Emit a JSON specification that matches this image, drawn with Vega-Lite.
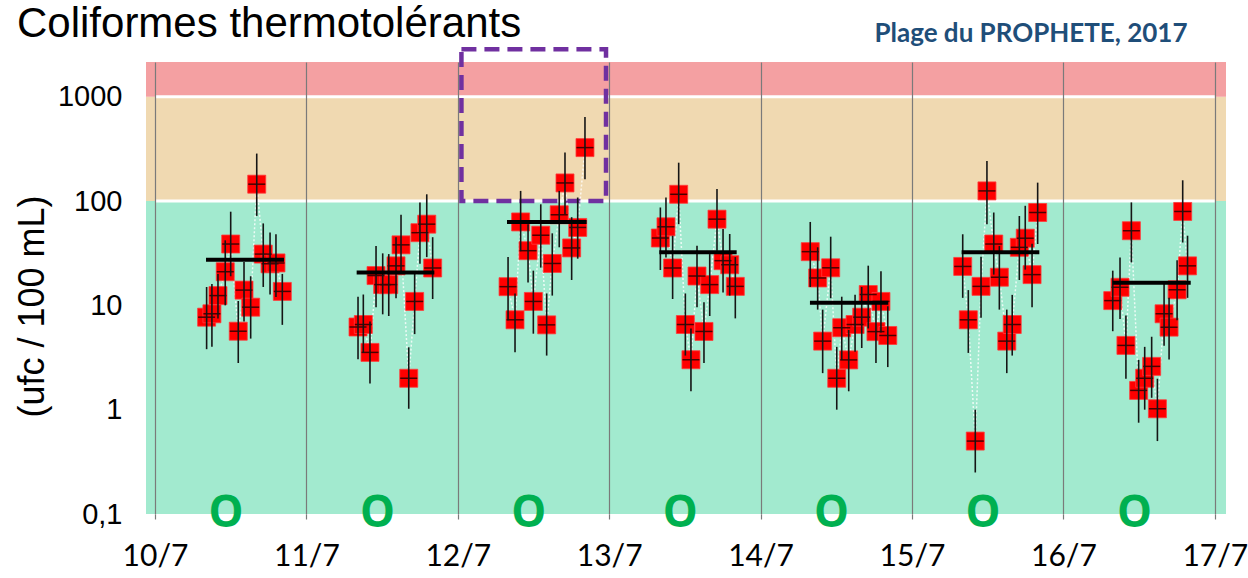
{
  "$schema": "https://vega.github.io/schema/vega-lite/v6.json",
  "width": 1080,
  "height": 452,
  "autosize": {"type": "none"},
  "padding": {"left": 146, "top": 62, "right": 22, "bottom": 64},
  "background": "white",
  "config": {"view": {"stroke": null}},
  "title": {
    "text": "Coliformes thermotolérants",
    "anchor": "start",
    "frame": "group",
    "dx": -129,
    "dy": 37,
    "offset": 12,
    "font": "Liberation Sans",
    "fontSize": 42,
    "fontWeight": "normal",
    "color": "#000000"
  },
  "datasets": {
    "zones": [
      {"lo": 0.1, "hi": 100, "zone": "bon"},
      {"lo": 100, "hi": 1000, "zone": "moyen"},
      {"lo": 1000, "hi": 2150, "zone": "mauvais"}
    ],
    "limits": [{"y": 100}, {"y": 1000}],
    "pts": [
      {"day": 0, "t": 0.341, "v": 7.7, "lo": 3.8, "hi": 15},
      {"day": 0, "t": 0.376, "v": 8.3, "lo": 4, "hi": 16},
      {"day": 0, "t": 0.416, "v": 12.4, "lo": 7.5, "hi": 20},
      {"day": 0, "t": 0.464, "v": 21, "lo": 10, "hi": 42},
      {"day": 0, "t": 0.5, "v": 38.7, "lo": 19, "hi": 79},
      {"day": 0, "t": 0.55, "v": 5.65, "lo": 2.8, "hi": 11},
      {"day": 0, "t": 0.588, "v": 14, "lo": 7, "hi": 26},
      {"day": 0, "t": 0.632, "v": 9.6, "lo": 4.8, "hi": 19},
      {"day": 0, "t": 0.672, "v": 145, "lo": 72, "hi": 285},
      {"day": 0, "t": 0.715, "v": 31, "lo": 15, "hi": 61},
      {"day": 0, "t": 0.76, "v": 25, "lo": 12.7, "hi": 50},
      {"day": 0, "t": 0.799, "v": 25.5, "lo": 12, "hi": 48},
      {"day": 0, "t": 0.841, "v": 13.6, "lo": 6.5, "hi": 20},

      {"day": 1, "t": 1.341, "v": 6.2, "lo": 3.05, "hi": 12.1},
      {"day": 1, "t": 1.376, "v": 6.55, "lo": 3.5, "hi": 12.7},
      {"day": 1, "t": 1.42, "v": 3.54, "lo": 1.78, "hi": 7},
      {"day": 1, "t": 1.46, "v": 19.3, "lo": 9.6, "hi": 37},
      {"day": 1, "t": 1.504, "v": 15.8, "lo": 8.2, "hi": 31.5},
      {"day": 1, "t": 1.544, "v": 15.8, "lo": 7.9, "hi": 31},
      {"day": 1, "t": 1.592, "v": 23.9, "lo": 11.7, "hi": 45},
      {"day": 1, "t": 1.625, "v": 38, "lo": 20, "hi": 74},
      {"day": 1, "t": 1.676, "v": 2.0, "lo": 1.02, "hi": 3.96},
      {"day": 1, "t": 1.715, "v": 10.9, "lo": 5.3, "hi": 20},
      {"day": 1, "t": 1.75, "v": 49.7, "lo": 25, "hi": 97},
      {"day": 1, "t": 1.795, "v": 60, "lo": 29, "hi": 116},
      {"day": 1, "t": 1.834, "v": 22.8, "lo": 11.5, "hi": 45},

      {"day": 2, "t": 2.332, "v": 15.1, "lo": 7.2, "hi": 29},
      {"day": 2, "t": 2.378, "v": 7.27, "lo": 3.56, "hi": 13},
      {"day": 2, "t": 2.415, "v": 63, "lo": 33, "hi": 125},
      {"day": 2, "t": 2.464, "v": 33.4, "lo": 16.6, "hi": 60},
      {"day": 2, "t": 2.499, "v": 10.9, "lo": 5.35, "hi": 21.5},
      {"day": 2, "t": 2.548, "v": 47, "lo": 23, "hi": 93},
      {"day": 2, "t": 2.587, "v": 6.5, "lo": 3.3, "hi": 13},
      {"day": 2, "t": 2.624, "v": 25.2, "lo": 12.4, "hi": 49},
      {"day": 2, "t": 2.67, "v": 73.8, "lo": 36, "hi": 125},
      {"day": 2, "t": 2.708, "v": 149, "lo": 75, "hi": 291},
      {"day": 2, "t": 2.752, "v": 35.5, "lo": 17.5, "hi": 70},
      {"day": 2, "t": 2.792, "v": 55.8, "lo": 28, "hi": 108},
      {"day": 2, "t": 2.84, "v": 325, "lo": 162, "hi": 638},

      {"day": 3, "t": 3.338, "v": 44.2, "lo": 21.8, "hi": 86.7},
      {"day": 3, "t": 3.375, "v": 56.6, "lo": 28.8, "hi": 108},
      {"day": 3, "t": 3.419, "v": 22.8, "lo": 11.5, "hi": 46.5},
      {"day": 3, "t": 3.459, "v": 116, "lo": 60, "hi": 233},
      {"day": 3, "t": 3.503, "v": 6.55, "lo": 3.3, "hi": 13},
      {"day": 3, "t": 3.54, "v": 3.01, "lo": 1.5, "hi": 6},
      {"day": 3, "t": 3.58, "v": 19.1, "lo": 9.6, "hi": 37.3},
      {"day": 3, "t": 3.626, "v": 5.62, "lo": 2.8, "hi": 10.7},
      {"day": 3, "t": 3.664, "v": 15.8, "lo": 7.9, "hi": 31},
      {"day": 3, "t": 3.712, "v": 67, "lo": 33.4, "hi": 130},
      {"day": 3, "t": 3.752, "v": 26.8, "lo": 13.3, "hi": 53.8},
      {"day": 3, "t": 3.796, "v": 24.5, "lo": 12.4, "hi": 48.3},
      {"day": 3, "t": 3.833, "v": 15.2, "lo": 7.5, "hi": 29},

      {"day": 4, "t": 4.328, "v": 32.7, "lo": 15, "hi": 63},
      {"day": 4, "t": 4.377, "v": 18.3, "lo": 9.1, "hi": 36},
      {"day": 4, "t": 4.41, "v": 4.54, "lo": 2.24, "hi": 9.1},
      {"day": 4, "t": 4.463, "v": 22.9, "lo": 11.7, "hi": 45.5},
      {"day": 4, "t": 4.503, "v": 2.0, "lo": 1.0, "hi": 4.0},
      {"day": 4, "t": 4.536, "v": 6.1, "lo": 3.0, "hi": 12.1},
      {"day": 4, "t": 4.582, "v": 3.0, "lo": 1.5, "hi": 5.8},
      {"day": 4, "t": 4.624, "v": 6.55, "lo": 3.6, "hi": 12.6},
      {"day": 4, "t": 4.668, "v": 7.7, "lo": 3.9, "hi": 15},
      {"day": 4, "t": 4.711, "v": 12.7, "lo": 6, "hi": 24},
      {"day": 4, "t": 4.762, "v": 5.6, "lo": 2.8, "hi": 11},
      {"day": 4, "t": 4.795, "v": 10.9, "lo": 5.5, "hi": 21.2},
      {"day": 4, "t": 4.84, "v": 5.14, "lo": 2.56, "hi": 9.8},

      {"day": 5, "t": 5.335, "v": 23.6, "lo": 11.8, "hi": 48},
      {"day": 5, "t": 5.372, "v": 7.27, "lo": 3.5, "hi": 14},
      {"day": 5, "t": 5.418, "v": 0.5, "lo": 0.25, "hi": 1.0},
      {"day": 5, "t": 5.456, "v": 15.2, "lo": 7.6, "hi": 29.3},
      {"day": 5, "t": 5.495, "v": 125, "lo": 60, "hi": 242},
      {"day": 5, "t": 5.54, "v": 38.7, "lo": 19.7, "hi": 77.6},
      {"day": 5, "t": 5.577, "v": 18.6, "lo": 9.1, "hi": 37},
      {"day": 5, "t": 5.626, "v": 4.54, "lo": 2.24, "hi": 9.1},
      {"day": 5, "t": 5.662, "v": 6.55, "lo": 3.3, "hi": 12.6},
      {"day": 5, "t": 5.709, "v": 36, "lo": 17.5, "hi": 71.8},
      {"day": 5, "t": 5.748, "v": 44, "lo": 22, "hi": 90},
      {"day": 5, "t": 5.793, "v": 19.7, "lo": 9.6, "hi": 39},
      {"day": 5, "t": 5.83, "v": 77.6, "lo": 38.7, "hi": 150},

      {"day": 6, "t": 6.326, "v": 11.1, "lo": 5.65, "hi": 21.5},
      {"day": 6, "t": 6.374, "v": 14.9, "lo": 7.4, "hi": 28.8},
      {"day": 6, "t": 6.413, "v": 4.13, "lo": 1.98, "hi": 8.0},
      {"day": 6, "t": 6.449, "v": 51.9, "lo": 25.8, "hi": 97},
      {"day": 6, "t": 6.497, "v": 1.53, "lo": 0.75, "hi": 3.0},
      {"day": 6, "t": 6.537, "v": 2.0, "lo": 1.0, "hi": 4.0},
      {"day": 6, "t": 6.583, "v": 2.6, "lo": 1.3, "hi": 5.0},
      {"day": 6, "t": 6.621, "v": 1.02, "lo": 0.5, "hi": 1.98},
      {"day": 6, "t": 6.665, "v": 8.3, "lo": 4.1, "hi": 16},
      {"day": 6, "t": 6.698, "v": 6.18, "lo": 3.03, "hi": 11.8},
      {"day": 6, "t": 6.751, "v": 14.1, "lo": 7.2, "hi": 27},
      {"day": 6, "t": 6.788, "v": 79.4, "lo": 40, "hi": 158},
      {"day": 6, "t": 6.82, "v": 23.9, "lo": 11.8, "hi": 46.5}
    ],
    "means": [
      {"day": 0, "t1": 0.337, "t2": 0.852, "v": 27.4},
      {"day": 1, "t1": 1.332, "t2": 1.845, "v": 20.6},
      {"day": 2, "t1": 2.325, "t2": 2.851, "v": 63},
      {"day": 3, "t1": 3.331, "t2": 3.842, "v": 32.2},
      {"day": 4, "t1": 4.326, "t2": 4.843, "v": 10.6},
      {"day": 5, "t1": 5.328, "t2": 5.841, "v": 32.2},
      {"day": 6, "t1": 6.326, "t2": 6.841, "v": 16.5}
    ],
    "classes": [
      {"day": 0, "code": "O"},
      {"day": 1, "code": "O"},
      {"day": 2, "code": "O"},
      {"day": 3, "code": "O"},
      {"day": 4, "code": "O"},
      {"day": 5, "code": "O"},
      {"day": 6, "code": "O"}
    ]
  },
  "layer": [
    {
      "data": {"name": "zones"},
      "mark": {"type": "rect"},
      "encoding": {
        "y": {
          "field": "lo",
          "type": "quantitative",
          "scale": {"type": "log", "domain": [0.1, 2150], "nice": false},
          "axis": {
            "title": "(ufc / 100 mL)",
            "values": [0.1, 1, 10, 100, 1000],
            "labelExpr": "datum.value < 1 ? '0,1' : format(datum.value, 'd')",
            "grid": false,
            "ticks": false,
            "domain": false,
            "labelPadding": 24,
            "labelFont": "Liberation Sans",
            "labelFontSize": 29,
            "labelColor": "#000000",
            "titleFont": "Liberation Sans",
            "titleFontSize": 36,
            "titleFontWeight": "normal",
            "titleColor": "#000000",
            "titlePadding": 6,
            "titleY": 244
          }
        },
        "y2": {"field": "hi"},
        "color": {
          "field": "zone",
          "type": "nominal",
          "scale": {"domain": ["bon", "moyen", "mauvais"], "range": ["#A2EACF", "#F0D9B1", "#F4A0A2"]},
          "legend": null
        }
      }
    },
    {
      "data": {"name": "limits"},
      "mark": {"type": "rule", "color": "#FFFFFF", "strokeWidth": 3},
      "encoding": {
        "x": {
          "datum": 0,
          "type": "quantitative",
          "scale": {"domain": [-0.0594, 7.074], "nice": false, "zero": false},
          "axis": {
            "values": [0, 1, 2, 3, 4, 5, 6, 7],
            "labelExpr": "(10 + datum.value) + '/7'",
            "title": null,
            "grid": true,
            "gridColor": "#7a7a7a",
            "gridWidth": 1.2,
            "ticks": true,
            "tickColor": "#7a7a7a",
            "tickSize": 5,
            "tickWidth": 1.2,
            "domain": false,
            "labelPadding": 22,
            "labelFont": "Lato",
            "labelFontSize": 30,
            "labelColor": "#000000",
            "labelFlush": false,
            "zindex": 1
          }
        },
        "x2": {"datum": 7},
        "y": {"field": "y", "type": "quantitative"}
      }
    },
    {
      "data": {"values": [{}]},
      "mark": {"type": "rect", "fillOpacity": 0, "stroke": "#7030A0", "strokeWidth": 4.5, "strokeDash": [15, 8], "clip": false},
      "encoding": {
        "x": {"datum": 2.024},
        "x2": {"datum": 2.979},
        "y": {"datum": 100},
        "y2": {"datum": 2850}
      }
    },
    {
      "data": {"name": "pts"},
      "mark": {"type": "line", "color": "#FFFFFF", "strokeWidth": 1.5, "strokeDash": [2, 2], "opacity": 0.8},
      "encoding": {
        "x": {"field": "t", "type": "quantitative"},
        "y": {"field": "v", "type": "quantitative"},
        "detail": {"field": "day"},
        "order": {"field": "t"}
      }
    },
    {
      "data": {"name": "pts"},
      "mark": {"type": "point", "shape": "square", "filled": true, "size": 324, "color": "#FF0000", "opacity": 1, "stroke": "#FF3b3b", "strokeWidth": 0.8},
      "encoding": {
        "x": {"field": "t", "type": "quantitative"},
        "y": {"field": "v", "type": "quantitative"}
      }
    },
    {
      "data": {"name": "pts"},
      "mark": {"type": "tick", "orient": "horizontal", "size": 17, "thickness": 1.5, "color": "#4a0000", "opacity": 1},
      "encoding": {
        "x": {"field": "t", "type": "quantitative"},
        "y": {"field": "v", "type": "quantitative"}
      }
    },
    {
      "data": {"name": "pts"},
      "mark": {"type": "rule", "color": "#151515", "strokeWidth": 1.6},
      "encoding": {
        "x": {"field": "t", "type": "quantitative"},
        "y": {"field": "lo", "type": "quantitative"},
        "y2": {"field": "hi"}
      }
    },
    {
      "data": {"name": "means"},
      "mark": {"type": "rule", "color": "#000000", "strokeWidth": 4},
      "encoding": {
        "x": {"field": "t1", "type": "quantitative"},
        "x2": {"field": "t2"},
        "y": {"field": "v", "type": "quantitative"}
      }
    },
    {
      "data": {"name": "classes"},
      "mark": {"type": "text", "font": "Open Sans", "fontWeight": "bold", "fontSize": 44, "color": "#00B050", "baseline": "middle", "align": "center", "dx": 71, "dy": 0, "clip": false},
      "encoding": {
        "x": {"field": "day", "type": "quantitative"},
        "y": {"datum": 0.1},
        "text": {"field": "code"}
      }
    },
    {
      "data": {"values": [{"label": "Plage du PROPHETE, 2017"}]},
      "mark": {"type": "text", "font": "Lato", "fontWeight": "bold", "fontSize": 26, "color": "#1F4E79", "baseline": "middle", "align": "center", "clip": false},
      "encoding": {
        "x": {"datum": 5.786},
        "y": {"datum": 4000},
        "text": {"field": "label"}
      }
    }
  ]
}
